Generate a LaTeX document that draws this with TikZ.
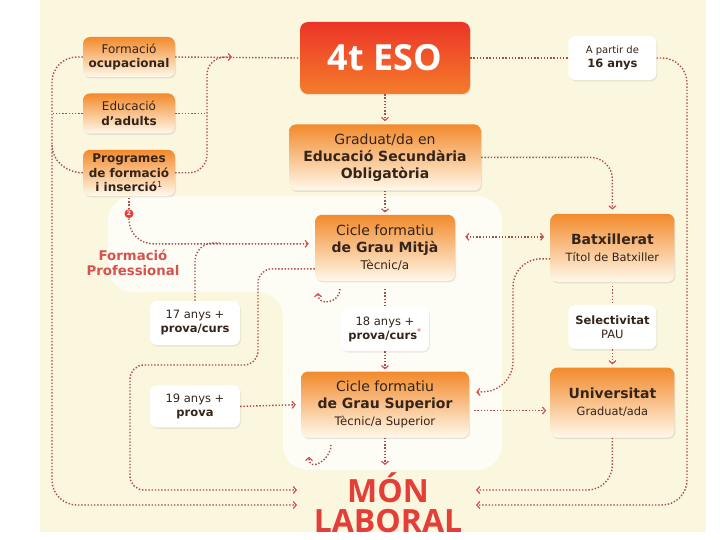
\documentclass[tikz,border=0pt]{standalone}
\usepackage{fontspec}
\setmainfont{DejaVu Sans}
\newfontfamily\titolfont{Open Sans}
\usetikzlibrary{arrows.meta, positioning, calc, shadows}
\definecolor{crema}{RGB}{250,247,222}
\definecolor{taronja}{RGB}{242,138,44}
\definecolor{taronjamig}{RGB}{246,172,82}
\definecolor{taronjaclar}{RGB}{255,249,235}
\definecolor{esovermell}{RGB}{236,52,40}
\definecolor{esotaronja}{RGB}{244,125,42}
\definecolor{tinta}{RGB}{52,36,26}
\definecolor{punts}{RGB}{172,78,72}
\definecolor{fletxa}{RGB}{214,80,82}
\definecolor{vermell}{RGB}{228,62,56}
\definecolor{rosa}{RGB}{214,82,78}

\begin{document}
\begin{tikzpicture}[x=1pt, y=-1pt,
    obox/.style={rectangle, rounded corners=7pt, top color=taronja, middle color=taronjamig, bottom color=taronjaclar,
      text=tinta, align=center, inner sep=2pt, font=\fontsize{14}{17}\selectfont,
      drop shadow={opacity=0.18, shadow xshift=1pt, shadow yshift=-1.5pt}},
    petita/.style={font=\fontsize{12}{14.5}\selectfont},
    esobox/.style={rectangle, rounded corners=8pt, top color=esovermell, bottom color=esotaronja, text=white,
      font=\titolfont\fontsize{36}{40}\bfseries, drop shadow={opacity=0.18, shadow xshift=1pt, shadow yshift=-1.5pt}},
    wbox/.style={rectangle, rounded corners=7pt, fill=white, text=tinta, align=center, inner sep=2pt,
      font=\fontsize{11.5}{14}\selectfont, drop shadow={opacity=0.15, shadow xshift=1pt, shadow yshift=-1.5pt}},
    link/.style={punts, line width=1.4pt, dash pattern=on 1.4pt off 1.8pt},
    arr/.style={link, -{Straight Barb[length=3pt, width=7pt, line width=1.2pt, color=fletxa]}},
    darr/.style={link, {Straight Barb[length=3pt, width=7pt, line width=1.2pt, color=fletxa]}-{Straight Barb[length=3pt, width=7pt, line width=1.2pt, color=fletxa]}}]
  \useasboundingbox (0,0) rectangle (720,540);
  \fill[white] (0,0) rectangle (720,540);
  \fill[crema] (40,0) rectangle (706,532);
  \fill[white, opacity=.7, rounded corners=25pt] (108,196) -- (502,196) -- (502,470) -- (283,470) -- (283,292) -- (108,292) -- cycle;

  % caixes de l'esquerra
  \node[obox, petita, minimum width=92pt, minimum height=40pt] (fo) at (129,57) {Formació\\\textbf{ocupacional}};
  \node[obox, petita, minimum width=92pt, minimum height=40pt, below=16pt of fo] (ea) {Educació\\\textbf{d’adults}};
  \node[obox, petita, minimum width=92pt, minimum height=46pt, below=16pt of ea] (pf) {\textbf{Programes}\\\textbf{de formació}\\\textbf{i inserció}\textsuperscript{1}};
  \node[circle, fill=vermell, text=white, inner sep=0pt, minimum size=9pt, font=\fontsize{6}{6}\bfseries, below=13pt of pf] (n2) {2};
  \node[text=rosa, align=center, font=\fontsize{13.3}{15}\bfseries] (fp) at (133,263) {Formació\\Professional};

  % columna central
  \node[esobox, minimum width=170pt, minimum height=72pt] (eso) at (385,58) {4t ESO};
  \node[obox, minimum width=192pt, minimum height=66pt, below=30pt of eso] (gesa) {Graduat/da en\\\textbf{Educació Secundària}\\\textbf{Obligatòria}};
  \node[obox, minimum width=140pt, minimum height=66pt, below=24pt of gesa] (cgm) {Cicle formatiu\\\textbf{de Grau Mitjà}\\{\fontsize{12}{14}\selectfont Tècnic/a}};
  \node[wbox, minimum width=88pt, minimum height=44pt, below=26pt of cgm] (a18) {18 anys +\\\textbf{prova/curs}\textcolor{vermell}{\textsuperscript{*}}};
  \node[obox, minimum width=168pt, minimum height=66pt, below=20pt of a18] (cgs) {Cicle formatiu\\\textbf{de Grau Superior}\\{\fontsize{11.7}{14}\selectfont Tècnic/a Superior}};
  \node[text=vermell, align=center, inner sep=0pt, font=\titolfont\fontsize{32}{29.5}\bfseries] (mon) at (388,503) {MÓN\\LABORAL};

  % columna dreta
  \node[wbox, minimum width=88pt, minimum height=44pt, right=98pt of eso] (apd) {{\fontsize{10}{12}\selectfont A partir de}\\\textbf{16 anys}};
  \node[obox, minimum width=124pt, minimum height=68pt, right=95pt of cgm] (batx) {\textbf{Batxillerat}\\{\fontsize{11.4}{13}\selectfont Títol de Batxiller}};
  \node[wbox, minimum width=88pt, minimum height=44pt, below=23pt of batx] (sel) {\textbf{Selectivitat}\\PAU};
  \node[obox, minimum width=124pt, minimum height=70pt, below=18pt of sel] (univ) {\textbf{Universitat}\\{\fontsize{11.4}{13}\selectfont Graduat/ada}};

  % proves d'accés
  \node[wbox, minimum width=90pt, minimum height=44pt] (a17) at (195,323) {17 anys +\\\textbf{prova/curs}};
  \node[wbox, minimum width=90pt, minimum height=42pt, below=40pt of a17] (a19) {19 anys +\\\textbf{prova}};

  \coordinate (vr) at (207,57);
  \coordinate (mrg) at (232,57);
  \coordinate (ml) at (52,505);
  \coordinate (mr) at (687,505);
  \coordinate (m1) at (297,490);
  \coordinate (m2) at (297,505);
  \coordinate (m3) at (476,490);
  \coordinate (m4) at (476,505);
  \coordinate (fpj) at (222,243);
  \coordinate (cl1) at (258,365);
  \coordinate (cl2) at (130,490);
  \coordinate (bc) at (513,390);

  \draw[link] (fo.east) -- (eso.west);
  \draw[arr, rounded corners=18pt] (pf.east) -| (vr) -- (mrg);
  \draw[link] (ea.east) -- (ea.east -| vr);
  \draw[arr, rounded corners=25pt] (fo.west) -| (ml) -- (m2);
  \draw[link] (ea.west) -- (ea.west -| ml);
  \draw[link] (pf.west) to[out=180, in=-90] ([yshift=28pt]pf.west -| ml);
  \draw[link] (eso.east) -- (apd.west);
  \draw[arr, rounded corners=25pt] (apd.east) -| (mr) -- (m4);
  \draw[arr, shorten >=3pt] (eso) -- (gesa);
  \draw[arr, rounded corners=22pt, shorten >=4pt] (gesa.east) -| (batx.north);
  \draw[arr, shorten >=2pt] (gesa) -- (cgm);
  \draw[link, shorten <=2pt] (pf.south) -- (n2.north);
  \draw[arr, rounded corners=24pt, shorten >=6pt] (n2.south) |- ([yshift=4pt]cgm.west);
  \draw[link, rounded corners=18pt] (a17.north) |- (fpj);
  \draw[arr, rounded corners=14pt] ([yshift=-21pt]cgm.west) -| (cl1) -| (cl2) -- (m1);
  \draw[arr, shorten >=5pt] (a19.east) -- (cgs.west);
  \draw[arr] ([xshift=-45pt,yshift=-8pt]cgm.south) to[out=-90, in=-90, looseness=1.6] ([xshift=-67pt,yshift=-12pt]cgm.south);
  \draw[arr] ([xshift=-54pt,yshift=-7pt]cgs.south) to[out=-90, in=-90, looseness=1.6] ([xshift=-76pt,yshift=-19pt]cgs.south);
  \draw[link, shorten <=8pt] (cgm) -- (a18);
  \draw[arr, shorten >=2pt] (a18) -- (cgs);
  \draw[arr, shorten >=8pt] (cgs.south) -- (cgs.south |- mon.north);
  \draw[darr, shorten <=10pt, shorten >=6pt] ([yshift=11pt]cgm.east) -- ([yshift=11pt]cgm.east -| batx.west);
  \draw[arr, rounded corners=28pt, shorten >=7pt] ([yshift=-11pt]batx.west) -| (bc) -- ([yshift=12pt]cgs.east);
  \draw[link, shorten <=4pt] (batx) -- (sel);
  \draw[arr, shorten >=3pt] (sel) -- (univ);
  \draw[arr, shorten <=5pt, shorten >=4pt] ([yshift=-6pt]cgs.east) -- ([yshift=-6pt]cgs.east -| univ.west);
  \draw[arr, rounded corners=25pt] (univ.south) |- (m3);
\end{tikzpicture}
\end{document}
